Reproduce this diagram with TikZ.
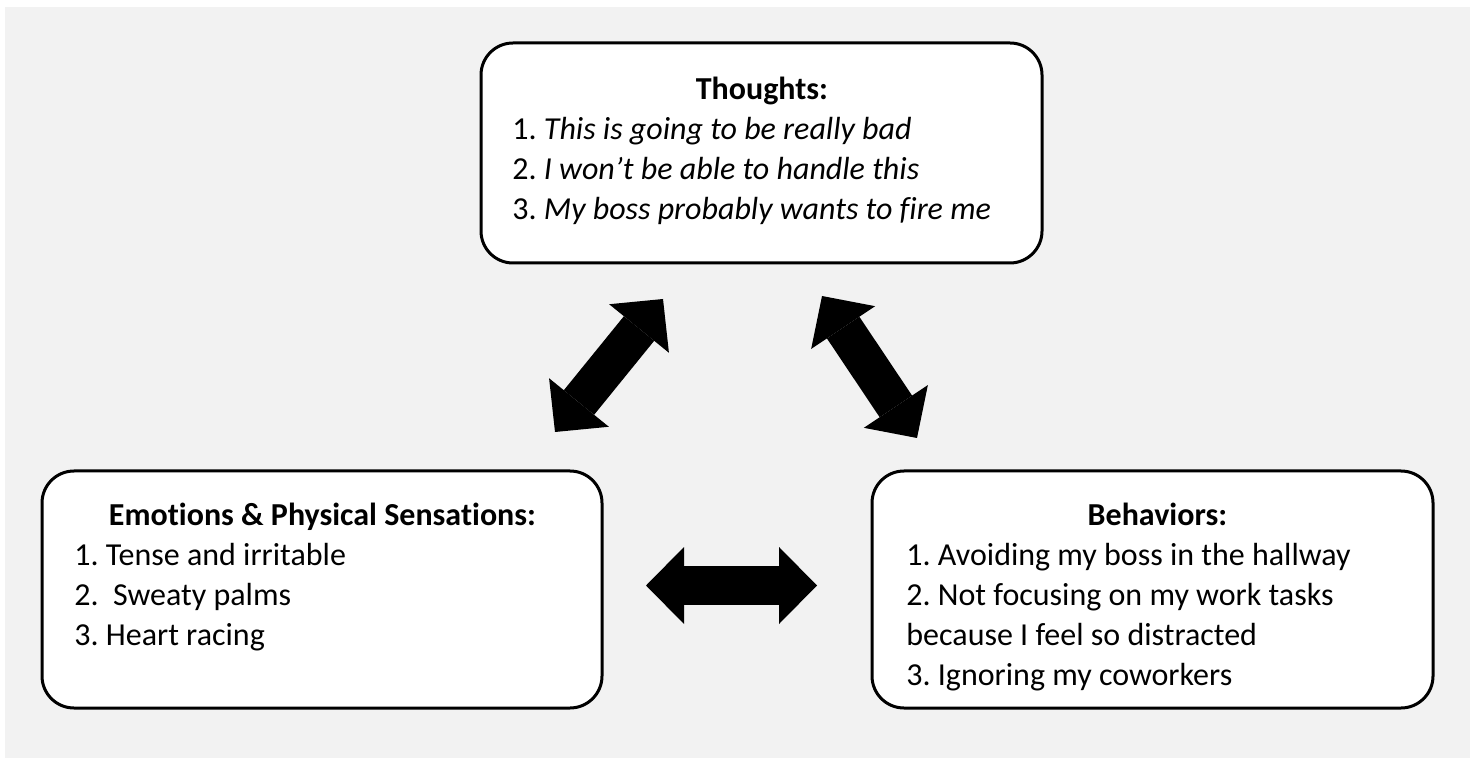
\documentclass[tikz,border=0pt]{standalone}
\usepackage{fontspec}
\setmainfont{Carlito}[Ligatures=NoCommon]
\frenchspacing
\usetikzlibrary{arrows.meta}
\definecolor{bggray}{HTML}{F2F2F2}
\newcommand\tightsp{\spaceskip=0.226em\relax\xspaceskip=0.226em\relax}
\begin{document}
\begin{tikzpicture}[x=0.5pt, y=-0.5pt,
    box/.style={draw, line width=1.5pt, rounded corners=16pt, fill=white, inner sep=0pt},
    txt/.style={anchor=base west, inner sep=0pt, align=left, font=\fontsize{16pt}{20pt}\selectfont},
    bigarrow/.style={line width=19.5pt, {Triangle[length=19pt, width=38.5pt, line width'=0pt]}-{Triangle[length=19pt, width=38.5pt, line width'=0pt]}}]
    \useasboundingbox (0,0) rectangle (1476,758);
    \fill[bggray] (5,7) rectangle (1470,758);
    % boxes
    \node[box, minimum width=280.5pt, minimum height=110pt] (thoughts) at (761.5,153) {};
    \node[box, minimum width=280pt, minimum height=118.5pt] (emotions) at (322,589.5) {};
    \node[box, minimum width=280.5pt, minimum height=118.5pt] (behaviors) at (1152.5,589.5) {};
    % texts
    \node[txt, text width=249.5pt] (thoughtstxt) at (512,100) {\tightsp{\centering\bfseries Thoughts:\par}
        1. \textit{This is going to be really bad}\\
        2. \textit{I won’t be able to handle this}\\
        3. \textit{My boss probably wants to fire me}};
    \node[txt, text width=248pt] (emotionstxt) at (74,525) {\tightsp{\centering\bfseries Emotions \& Physical Sensations:\par}
        1. Tense and irritable\\
        2.\ \ Sweaty palms\\
        3. Heart racing};
    \node[txt, text width=251pt] (behaviorstxt) at (906,525) {\tightsp{\centering\bfseries Behaviors:\par}
        1. Avoiding my boss in the hallway\\
        2. Not focusing on my work tasks\\
        because I feel so distracted\\
        3. Ignoring my coworkers};
    % arrows
    \coordinate (emoT) at (555,432);
    \coordinate (thoE) at (663,299);
    \coordinate (thoB) at (822,296);
    \coordinate (behT) at (917,438);
    \coordinate (emoB) at (646,585.5);
    \coordinate (behE) at (817,585.5);
    \draw[bigarrow] (emoT) -- (thoE);
    \draw[bigarrow] (thoB) -- (behT);
    \draw[bigarrow] (emoB) -- (behE);
\end{tikzpicture}
\end{document}
